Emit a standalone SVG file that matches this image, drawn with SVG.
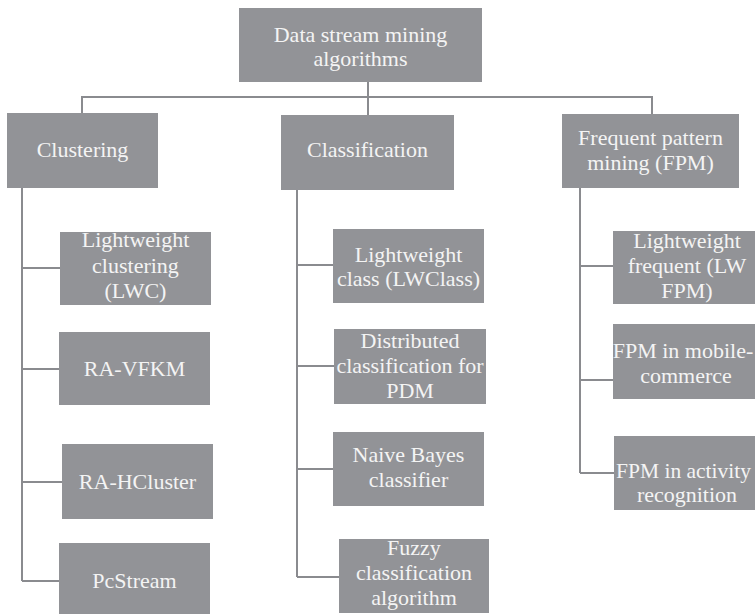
<svg xmlns="http://www.w3.org/2000/svg" width="755" height="615" viewBox="0 0 755 615">
  <style>
    .box { fill: #929397; }
    .lbl { font-family: "Liberation Serif", "Times New Roman", serif; font-size: 22px; fill: #f4f4f4; text-anchor: middle; }
    .tight { font-size: 21.5px; }
    .wire { fill: none; stroke: #8a8b8f; stroke-width: 2; }
  </style>
  <rect width="755" height="615" fill="#ffffff"/>

  <!-- tree connectors -->
  <g id="connectors" class="wire">
    <path d="M368 82 V116"/>
    <path d="M82 113 V97 H652 V114"/>
    <!-- Clustering branch -->
    <path d="M22 188 V581"/>
    <path d="M22 268 H60 M22 369 H59 M22 482 H62 M22 581 H59"/>
    <!-- Classification branch -->
    <path d="M297 190 V577"/>
    <path d="M297 265 H333 M297 366 H334 M297 469 H333 M297 577 H339"/>
    <!-- Frequent pattern mining branch -->
    <path d="M580 188 V473"/>
    <path d="M580 266 H613 M580 380 H613 M580 473 H614"/>
  </g>

  <g id="root">
    <rect class="box" x="239" y="8" width="243" height="74"/>
    <text class="lbl" x="360.5" y="42">Data stream mining</text>
    <text class="lbl" x="360.5" y="66">algorithms</text>
  </g>

  <g id="clustering">
    <rect class="box" x="7" y="113" width="151" height="75"/>
    <text class="lbl" x="82.5" y="157">Clustering</text>
  </g>
  <g id="classification">
    <rect class="box" x="281" y="115" width="173" height="75"/>
    <text class="lbl" x="367.5" y="157">Classification</text>
  </g>
  <g id="fpm">
    <rect class="box" x="562" y="114" width="177" height="74"/>
    <text class="lbl" x="650.5" y="145">Frequent pattern</text>
    <text class="lbl" x="650.5" y="170">mining (FPM)</text>
  </g>

  <g id="lwc">
    <rect class="box" x="60" y="232" width="151" height="73"/>
    <text class="lbl" x="135.5" y="247">Lightweight</text>
    <text class="lbl" x="135.5" y="273">clustering</text>
    <text class="lbl" x="135.5" y="298">(LWC)</text>
  </g>
  <g id="ra-vfkm">
    <rect class="box" x="59" y="332" width="151" height="73"/>
    <text class="lbl" x="134.5" y="376">RA-VFKM</text>
  </g>
  <g id="ra-hcluster">
    <rect class="box" x="62" y="444" width="151" height="75"/>
    <text class="lbl" x="137.5" y="489">RA-HCluster</text>
  </g>
  <g id="pcstream">
    <rect class="box" x="59" y="543" width="151" height="71"/>
    <text class="lbl" x="134.5" y="588">PcStream</text>
  </g>

  <g id="lwclass">
    <rect class="box" x="333" y="229" width="151" height="74"/>
    <text class="lbl" x="408.5" y="262">Lightweight</text>
    <text class="lbl" x="408.5" y="286">class (LWClass)</text>
  </g>
  <g id="distributed">
    <rect class="box" x="334" y="329" width="152" height="75"/>
    <text class="lbl" x="410" y="348">Distributed</text>
    <text class="lbl" x="410" y="373">classification for</text>
    <text class="lbl" x="410" y="398">PDM</text>
  </g>
  <g id="naive-bayes">
    <rect class="box" x="333" y="432" width="151" height="74"/>
    <text class="lbl" x="408.5" y="462">Naive Bayes</text>
    <text class="lbl" x="408.5" y="487">classifier</text>
  </g>
  <g id="fuzzy">
    <rect class="box" x="339" y="539" width="150" height="74"/>
    <text class="lbl" x="414" y="555">Fuzzy</text>
    <text class="lbl" x="414" y="580">classification</text>
    <text class="lbl" x="414" y="605">algorithm</text>
  </g>

  <g id="lw-fpm">
    <rect class="box" x="613" y="231" width="150" height="73"/>
    <text class="lbl" x="687" y="248">Lightweight</text>
    <text class="lbl" x="687" y="273">frequent (LW</text>
    <text class="lbl" x="687" y="298">FPM)</text>
  </g>
  <g id="fpm-mobile">
    <rect class="box" x="613" y="324" width="150" height="75"/>
    <text class="lbl" x="683" y="358">FPM in mobile-</text>
    <text class="lbl" x="686" y="383">commerce</text>
  </g>
  <g id="fpm-activity">
    <rect class="box" x="614" y="436" width="150" height="74"/>
    <text class="lbl tight" x="683.5" y="478">FPM in activity</text>
    <text class="lbl" x="687" y="502">recognition</text>
  </g>
</svg>
